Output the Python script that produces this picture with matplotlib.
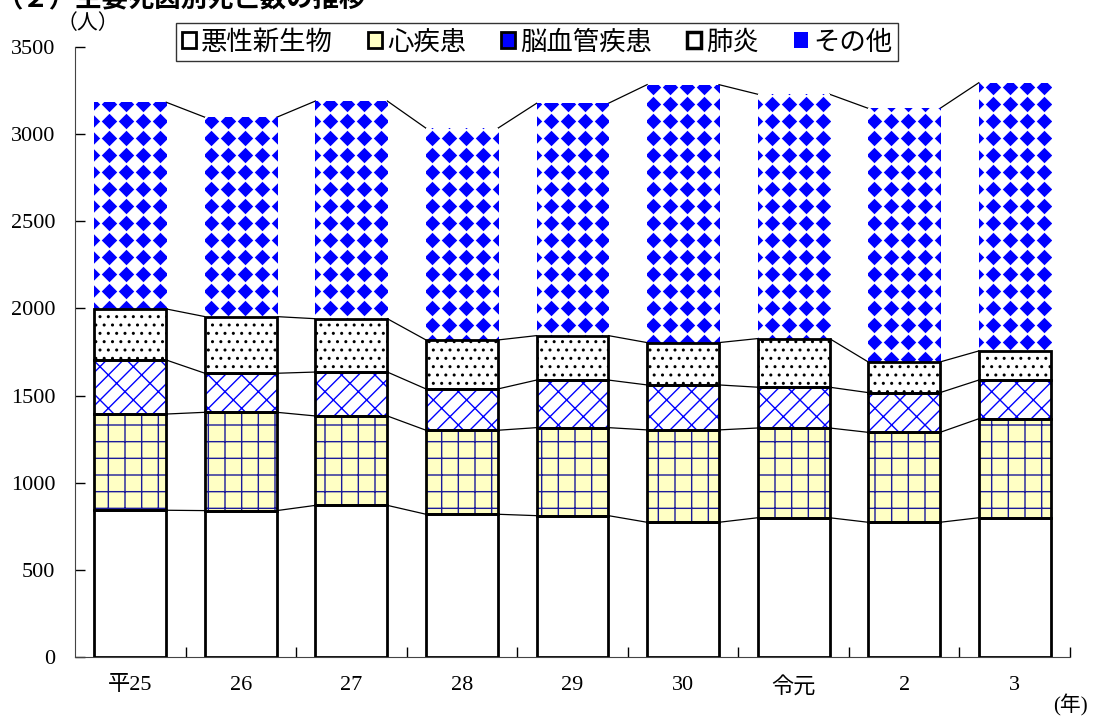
import numpy as np
import matplotlib
matplotlib.use("Agg")
import matplotlib.pyplot as plt
from matplotlib.patches import Patch

plt.rcParams['font.family'] = ['Liberation Serif', 'Noto Sans CJK JP', 'DejaVu Sans']
plt.rcParams['hatch.linewidth'] = 1.0

# 年次と死因別死亡数（人）
years = ['平25', '26', '27', '28', '29', '30', '令元', '2', '3']
cancer = [842, 840, 870, 819, 811, 773, 799, 773, 799]        # 悪性新生物
heart = [552, 564, 513, 482, 505, 530, 515, 516, 568]         # 心疾患
stroke = [310, 224, 252, 237, 273, 258, 234, 228, 222]        # 脳血管疾患
pneumonia = [293, 325, 306, 281, 255, 243, 279, 176, 167]     # 肺炎
other = [1186, 1144, 1249, 1215, 1333, 1480, 1402, 1455, 1539]  # その他

series = [cancer, heart, stroke, pneumonia, other]
names = ['悪性新生物', '心疾患', '脳血管疾患', '肺炎', 'その他']

fig = plt.figure(figsize=(10.94, 7.17), dpi=100)
ax = fig.add_axes([75 / 1094, 60 / 717, 995 / 1094, 610 / 717])

x = np.arange(len(years))
w = 0.65
bottoms = np.zeros(len(years))

# patterns: (face, hatch, hatch colour)
styles = [
    ('white', None, 'black'),
    ('#ffffc4', '+', '#1a1a9a'),
    ('white', '//\\', '#0000ff'),
    ('white', '..', 'black'),
]

levels = []
for vals, (face, hatch, hcol) in zip(series[:4], styles):
    vals = np.array(vals)
    ax.bar(x, vals, w, bottom=bottoms, color=face, hatch=hatch,
           edgecolor=hcol, linewidth=0, zorder=2)
    ax.bar(x, vals, w, bottom=bottoms, fill=False, edgecolor='black',
           linewidth=2.0, zorder=3)
    bottoms = bottoms + vals
    levels.append(bottoms.copy())

# その他: blue diamonds pattern clipped to each bar
oth = np.array(other)
bars = ax.bar(x, oth, w, bottom=bottoms, color='white', linewidth=0, zorder=2)
dx = 17 / 110.6
dy = 17 * 3500 / 610
gx, gy = np.meshgrid(np.arange(-0.5, 8.6, dx), np.arange(dy / 2, 3500, dy))
for b in bars:
    sc = ax.scatter(gx.ravel(), gy.ravel(), marker='D', s=62, color='#0000ff',
                    linewidths=0, zorder=2.5)
    sc.set_clip_path(b)
levels.append(bottoms + oth)

# connecting lines between bars
for lv in levels:
    for i in range(len(years) - 1):
        ax.plot([x[i] + w / 2, x[i + 1] - w / 2], [lv[i], lv[i + 1]],
                color='black', linewidth=0.9, zorder=1)

ax.set_xlim(-0.5, len(years) - 0.5)
ax.set_ylim(0, 3500)
ax.set_yticks(np.arange(0, 3501, 500))
ax.set_xticks(x)
ax.set_xticklabels(years)
ax.set_xticks(np.arange(0.5, len(years), 1), minor=True)
ax.tick_params(axis='y', direction='in', length=7, width=1, labelsize=16, pad=14)
ax.tick_params(axis='x', which='major', length=0, labelsize=16, pad=14)
ax.tick_params(axis='x', which='minor', direction='in', length=7, width=1)
for s in ['top', 'right']:
    ax.spines[s].set_visible(False)
ax.spines['left'].set_color('#444444')
ax.spines['bottom'].set_color('#444444')

fig.text(88 / 1094, 1 - 23 / 717, '（人）', fontsize=15, ha='center', va='center',
         family=['Noto Sans CJK JP'])
fig.text(1070 / 1094, 1 - 705 / 717, '(年)', fontsize=15, ha='center', va='center')
fig.text(-4 / 1094, 1.0, '（２）主要死因別死亡数の推移', fontsize=19, fontweight='bold',
         ha='left', va='center', family=['Noto Sans CJK JP'])

handles = [
    Patch(facecolor='white', edgecolor='black', linewidth=2),
    Patch(facecolor='#ffffc4', edgecolor='black', linewidth=2),
    Patch(facecolor='#0000ff', edgecolor='black', linewidth=2),
    Patch(facecolor='white', edgecolor='black', linewidth=2.5),
    Patch(facecolor='#0000ff', edgecolor='white', linewidth=0),
]
leg = fig.legend(handles, names, loc='center', bbox_to_anchor=(537 / 1094, 1 - 42 / 717),
                 ncol=5, frameon=True, fancybox=False, edgecolor='black',
                 handlelength=0.55, handleheight=0.55, handletextpad=0.2,
                 columnspacing=1.3, borderpad=0.2,
                 prop={'family': ['Noto Sans CJK JP'], 'size': 19})
leg.get_frame().set_linewidth(1.0)

fig.savefig('out.png', dpi=100)
